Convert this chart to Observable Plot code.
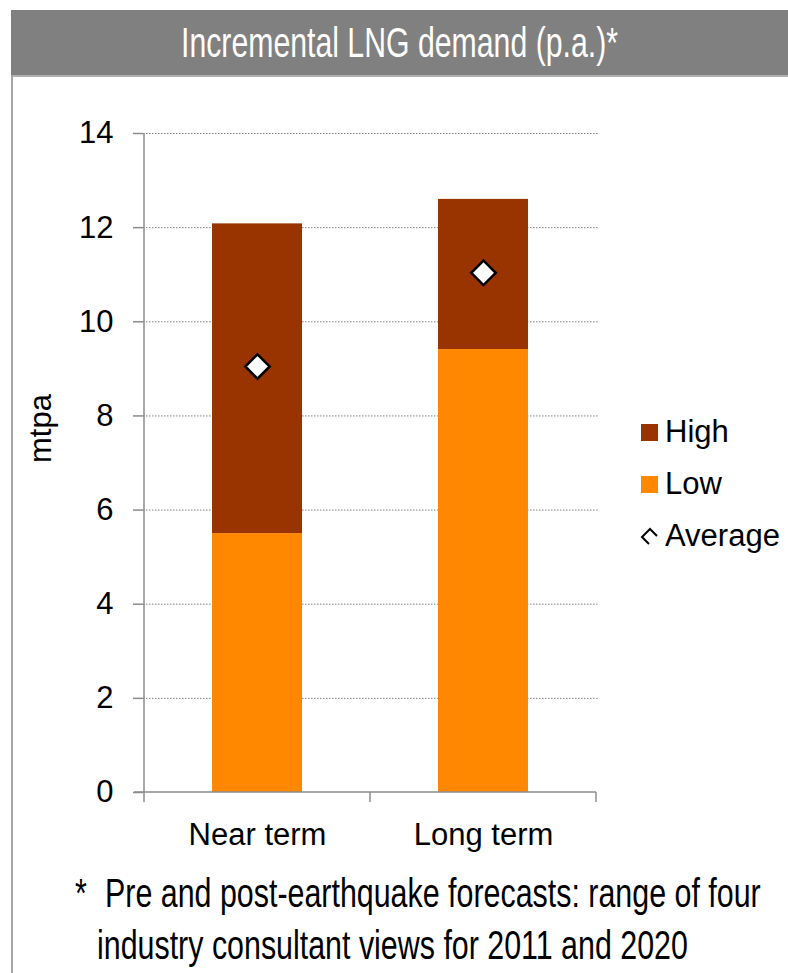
<!DOCTYPE html>
<html>
<head>
<meta charset="utf-8">
<script src="https://cdn.jsdelivr.net/npm/d3@7"></script>
<script src="https://cdn.jsdelivr.net/npm/@observablehq/plot@0.6"></script>
<style>
  html, body { margin: 0; padding: 0; background: #fff; }
  #page { position: relative; width: 788px; height: 973px; overflow: hidden; font-family: "Liberation Sans", Arial, sans-serif; color: #000; }
  #titlebar { position: absolute; left: 11px; top: 10px; width: 777px; height: 65px; background: #808080; display: flex; align-items: center; justify-content: center; }
  #titlebar span { display: inline-block; color: #fff; font-size: 42px; transform: scaleX(0.72); white-space: nowrap; }
  #topline { position: absolute; left: 11px; top: 75px; width: 777px; height: 2px; background: #b0b0b0; }
  #leftline { position: absolute; left: 11px; top: 75px; width: 2px; height: 898px; background: #a6a6a6; }
  #chart { position: absolute; left: 0; top: 80px; }
  #legend { position: absolute; left: 641px; top: 0; }
  .lg { position: absolute; left: 0; display: flex; align-items: center; white-space: nowrap; font-size: 31px; }
  .sw { width: 17px; height: 17px; margin-right: 7px; flex: none; }
  .foot { position: absolute; font-size: 40px; white-space: nowrap; transform: scaleX(0.76); transform-origin: 0 0; line-height: 1; }
</style>
</head>
<body>
<div id="page">
  <div id="titlebar"><span id="title"></span></div>
  <div id="topline"></div>
  <div id="leftline"></div>
  <div id="chart"></div>
  <div id="legend"></div>
  <div class="foot" id="foot0" style="left:75px; top:873px;"></div>
  <div class="foot" id="foot1" style="left:105px; top:873px;"></div>
  <div class="foot" id="foot2" style="left:97px; top:925px;"></div>
</div>
<script>
// ---- data ----
const titleText = "Incremental LNG demand (p.a.)*";
const categories = ["Near term", "Long term"];
const lowValues = [5.5, 9.41];
const highValues = [12.08, 12.6];
const averageValues = [9.05, 11.04];
const yTicks = [0, 2, 4, 6, 8, 10, 12, 14];
const yLabel = "mtpa";
const seriesNames = ["High", "Low", "Average"];
const seriesColors = ["#993300", "#ff8800"];
const footnoteMark = "*";
const footnoteLines = ["Pre and post-earthquake forecasts: range of four", "industry consultant views for 2011 and 2020"];

// ---- text ----
document.getElementById("title").textContent = titleText;
document.getElementById("foot0").textContent = footnoteMark;
document.getElementById("foot1").textContent = footnoteLines[0];
document.getElementById("foot2").textContent = footnoteLines[1];

// ---- chart ----
const rows = categories.map((c, i) => ({category: c, low: lowValues[i], high: highValues[i], avg: averageValues[i]}));
const axisColor = "#8c8c8c";
const pInner = 0.6, pOuter = 0.303;

const plot = Plot.plot({
  width: 788,
  height: 800,
  marginTop: 53,
  marginBottom: 88,
  marginLeft: 143,
  marginRight: 190,
  style: {fontFamily: "'Liberation Sans', Arial, sans-serif", fontSize: "31px", color: "#000", background: "transparent", overflow: "visible"},
  x: {domain: categories, paddingInner: pInner, paddingOuter: pOuter, align: 0.5},
  y: {domain: [0, 14]},
  marks: [
    Plot.gridY(yTicks.filter(t => t > 0), {stroke: "#808080", strokeOpacity: 1, strokeWidth: 1, strokeDasharray: "1.5,1.5"}),
    Plot.barY(rows, {x: "category", y1: () => 0, y2: "low", fill: seriesColors[1]}),
    Plot.barY(rows, {x: "category", y1: "low", y2: "high", fill: seriesColors[0]}),
    Plot.dot(rows, {x: "category", y: "avg", symbol: "diamond2", r: 11, fill: "white", stroke: "black", strokeWidth: 2.5}),
    Plot.axisY(yTicks, {tickSize: 10, tickPadding: 20, stroke: axisColor, strokeWidth: 1.5, fill: "black", label: null}),
    Plot.axisX({tickSize: 0, tickPadding: 30, label: null, fill: "black"}),
    Plot.text([yLabel], {frameAnchor: "left", dx: -102, rotate: -90, fill: "black", fontSize: 31})
  ]
});

// axis lines and category boundary ticks drawn from the plot's own scales
const xs = plot.scale("x"), ys = plot.scale("y");
const step = xs.step, bw = xs.bandwidth;
const bounds = categories.map(c => xs.apply(c) - (step - bw) / 2);
bounds.push(xs.apply(categories[categories.length - 1]) + bw + (step - bw) / 2);
const g = d3.select(plot).append("g").attr("stroke", axisColor).attr("stroke-width", 1.5).attr("fill", "none");
const y0 = ys.apply(0), yTop = ys.apply(d3.max(yTicks));
g.append("line").attr("x1", bounds[0]).attr("x2", bounds[0]).attr("y1", yTop).attr("y2", y0);
g.append("line").attr("x1", bounds[0] - 10).attr("x2", bounds[bounds.length - 1]).attr("y1", y0).attr("y2", y0);
bounds.forEach(b => g.append("line").attr("x1", b).attr("x2", b).attr("y1", y0).attr("y2", y0 + 10));

document.getElementById("chart").appendChild(plot);

// ---- legend ----
const legend = d3.select("#legend");
const rowCenters = [432, 484, 536];
seriesNames.forEach((name, i) => {
  const row = legend.append("div").attr("class", "lg").style("top", (rowCenters[i] - 20) + "px").style("height", "40px");
  if (i < seriesColors.length) {
    row.append("div").attr("class", "sw").style("background", seriesColors[i]);
  } else {
    const s = row.append("svg").attr("width", 17).attr("height", 17).style("margin-right", "7px").style("overflow", "visible");
    s.append("path").attr("d", "M16,8 L9,1 L1,9 L8,16").attr("fill", "none").attr("stroke", "black").attr("stroke-width", 2);
  }
  row.append("span").text(name);
});
</script>
</body>
</html>
